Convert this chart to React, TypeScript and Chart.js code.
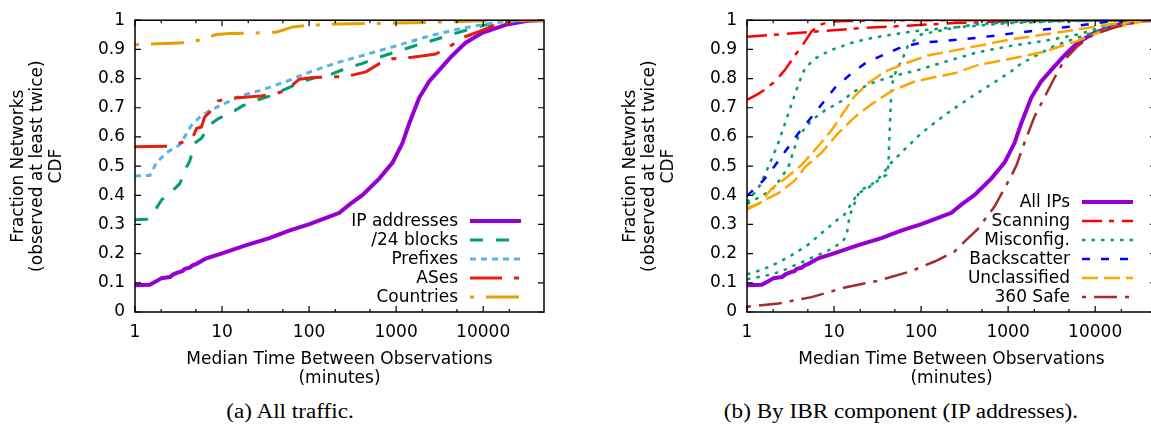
import React, { useEffect, useRef } from "react";
import { Chart, registerables } from "chart.js";
Chart.register(...registerables);

// ---------- axes ----------
const X_TICKS = [1, 10, 100, 1000, 10000];
const X_TICK_LABELS = ["1", "10", "100", "1000", "10000"];
const X_MINOR = [2, 5, 20, 50, 200, 500, 2000, 5000, 20000];
const Y_TICKS = [0, 0.1, 0.2, 0.3, 0.4, 0.5, 0.6, 0.7, 0.8, 0.9, 1];
const Y_TICK_LABELS = ["0", "0.1", "0.2", "0.3", "0.4", "0.5", "0.6", "0.7", "0.8", "0.9", "1"];
const X_MIN = 1;
const X_MAX = 50000;

// ---------- (a) All traffic ----------
const ipX = [1, 1.48, 1.75, 2.02, 2.3, 2.52, 2.8, 3.14, 3.5, 3.74, 4.26, 4.6, 5.09, 6.6, 10, 19, 35, 59, 101, 171, 223, 290, 412, 640, 910, 1183, 1413, 1840, 2395, 3119, 4430, 6300, 9770, 18100, 33500, 50000];
const ipY = [0.092, 0.093, 0.105, 0.116, 0.118, 0.12, 0.13, 0.136, 0.14, 0.148, 0.152, 0.16, 0.165, 0.184, 0.201, 0.229, 0.253, 0.279, 0.301, 0.327, 0.34, 0.368, 0.401, 0.457, 0.512, 0.579, 0.646, 0.734, 0.79, 0.829, 0.879, 0.923, 0.957, 0.984, 0.999, 1.0];

const b24X = [1, 1.36, 1.77, 2.02, 2.75, 3.27, 3.9, 4.26, 4.87, 5.8, 7.55, 9.0, 14, 17.4, 27, 35, 52, 85, 110, 170, 266, 412, 640, 1540, 2840, 5770, 10600, 23600, 50000];
const b24Y = [0.316, 0.318, 0.357, 0.384, 0.418, 0.44, 0.496, 0.518, 0.579, 0.596, 0.646, 0.662, 0.69, 0.707, 0.729, 0.74, 0.762, 0.79, 0.801, 0.812, 0.835, 0.852, 0.873, 0.91, 0.934, 0.962, 0.984, 0.998, 1.0];

const pfX = [1, 1.48, 1.77, 2.3, 3.27, 4.46, 5.55, 7.2, 10.3, 16, 29.5, 54.6, 101, 213, 412, 1000, 2395, 5770, 13900, 33500, 50000];
const pfY = [0.466, 0.468, 0.512, 0.546, 0.573, 0.64, 0.668, 0.69, 0.712, 0.74, 0.762, 0.79, 0.822, 0.855, 0.879, 0.912, 0.946, 0.973, 0.992, 1.0, 1.0];

const asX = [1, 2.41, 3.74, 4.65, 5.09, 5.8, 6.3, 7.2, 8.24, 9.0, 11.7, 28.2, 42, 54.6, 65, 77.5, 110, 265, 450, 640, 910, 1540, 2180, 2840, 4020, 5770, 8920, 13900, 25700, 50000];
const asY = [0.566, 0.568, 0.584, 0.601, 0.629, 0.634, 0.668, 0.684, 0.712, 0.723, 0.732, 0.74, 0.749, 0.76, 0.779, 0.798, 0.804, 0.807, 0.823, 0.851, 0.868, 0.873, 0.879, 0.884, 0.907, 0.94, 0.961, 0.984, 0.996, 1.0];

const ctX = [1, 3.74, 5.55, 8.6, 12.3, 29.5, 42, 65, 92.5, 223, 1000, 6850, 20000, 50000];
const ctY = [0.916, 0.923, 0.932, 0.951, 0.954, 0.957, 0.959, 0.977, 0.982, 0.987, 0.99, 0.996, 1.0, 1.0];

// ---------- (b) By IBR component ----------
const scanAX = [1, 5.05, 20.6, 77, 241, 1000, 5000, 50000];
const scanAY = [0.943, 0.959, 0.973, 0.982, 0.99, 0.996, 0.999, 1.0];
const scanBX = [1, 1.3, 1.61, 2.09, 2.72, 3.55, 4.43, 5.52, 6.86, 8.56, 11.1, 30, 50000];
const scanBY = [0.727, 0.745, 0.762, 0.79, 0.829, 0.879, 0.918, 0.962, 0.984, 0.993, 0.996, 1.0, 1.0];

const mis1X = [1, 1.41, 1.75, 2.29, 2.73, 3.25, 3.88, 4.62, 6, 8.9, 17, 28, 81, 163, 400, 1000, 5000, 50000];
const mis1Y = [0.375, 0.434, 0.496, 0.579, 0.646, 0.712, 0.779, 0.834, 0.868, 0.896, 0.925, 0.94, 0.962, 0.971, 0.98, 0.99, 0.997, 1.0];
const mis2X = [1, 1.54, 2.09, 2.98, 3.88, 5.52, 7.8, 12.2, 17.3, 26.9, 45.6, 92, 186, 447, 1070, 2600, 6300, 15000, 36000, 50000];
const mis2Y = [0.37, 0.401, 0.429, 0.496, 0.601, 0.657, 0.69, 0.723, 0.757, 0.784, 0.807, 0.829, 0.857, 0.89, 0.912, 0.929, 0.951, 0.984, 1.0, 1.0];
const mis3X = [1, 1.5, 2.3, 3.5, 5, 7.8, 11.1, 13.2, 15, 17.3, 20, 25.7, 30.6, 35, 40, 42, 44, 45.6, 52, 59, 70.7, 100, 202, 400, 1000, 5000, 50000];
const mis3Y = [0.129, 0.145, 0.17, 0.2, 0.23, 0.279, 0.318, 0.334, 0.36, 0.39, 0.41, 0.429, 0.446, 0.46, 0.47, 0.5, 0.65, 0.773, 0.83, 0.857, 0.912, 0.951, 0.97, 0.985, 0.993, 0.998, 1.0];
const mis4X = [1, 2, 3, 5, 8.5, 12.2, 13.9, 15.1, 17.3, 19.8, 25.7, 30.6, 35, 41.5, 45.6, 64.6, 100, 156, 220, 447, 1070, 1407, 3390, 6300, 15000, 36000, 50000];
const mis4Y = [0.112, 0.13, 0.15, 0.18, 0.21, 0.238, 0.26, 0.33, 0.373, 0.418, 0.432, 0.45, 0.468, 0.496, 0.512, 0.557, 0.612, 0.657, 0.69, 0.751, 0.823, 0.851, 0.912, 0.94, 0.978, 0.997, 1.0];

const bsX = [1, 1.54, 2.09, 2.85, 3.88, 5.52, 7.5, 10.2, 15.1, 22.5, 36.6, 59, 100, 186, 447, 1070, 2600, 6300, 15000, 50000];
const bsY = [0.398, 0.451, 0.501, 0.557, 0.612, 0.668, 0.718, 0.768, 0.812, 0.851, 0.881, 0.907, 0.923, 0.929, 0.94, 0.954, 0.968, 0.981, 0.996, 1.0];

const un1X = [1, 1.41, 1.92, 2.73, 4.24, 6.57, 9.35, 13.3, 17.3, 24.6, 38, 64.6, 119, 220, 447, 1070, 2600, 6300, 15000, 36000, 50000];
const un1Y = [0.357, 0.373, 0.423, 0.457, 0.504, 0.568, 0.623, 0.69, 0.74, 0.784, 0.823, 0.851, 0.879, 0.894, 0.912, 0.934, 0.951, 0.968, 0.987, 0.997, 1.0];
const un2X = [1, 1.61, 2.29, 3.55, 4.62, 7.2, 11.1, 17.3, 26.9, 45.6, 84, 156, 241, 447, 1070, 2600, 6300, 9500, 15000, 36000, 50000];
const un2Y = [0.351, 0.384, 0.407, 0.451, 0.496, 0.546, 0.612, 0.668, 0.712, 0.757, 0.79, 0.807, 0.818, 0.846, 0.868, 0.892, 0.929, 0.951, 0.973, 0.996, 1.0];

const safeX = [1, 2.29, 5.52, 13.3, 32, 77, 143, 186, 241, 313, 447, 700, 1070, 1240, 1535, 2000, 2600, 3390, 4400, 6300, 9500, 18000, 36000, 50000];
const safeY = [0.018, 0.029, 0.051, 0.084, 0.107, 0.14, 0.173, 0.19, 0.207, 0.24, 0.284, 0.362, 0.462, 0.501, 0.579, 0.668, 0.734, 0.801, 0.862, 0.912, 0.951, 0.978, 0.999, 1.0];

// ---------- helpers ----------
const FONT = "'DejaVu Sans', sans-serif";
const pts = (xs: number[], ys: number[]) => xs.map((x, i) => ({ x, y: ys[i] }));

type Series = {
  label: string;
  xs: number[];
  ys: number[];
  color: string;
  width: number;
  dash: number[];
  legend: boolean;
};

const seriesA: Series[] = [
  { label: "IP addresses", xs: ipX, ys: ipY, color: "#9400d3", width: 4, dash: [], legend: true },
  { label: "/24 blocks", xs: b24X, ys: b24Y, color: "#009e73", width: 3, dash: [13, 13], legend: true },
  { label: "Prefixes", xs: pfX, ys: pfY, color: "#56b4e9", width: 3, dash: [6, 5], legend: true },
  { label: "ASes", xs: asX, ys: asY, color: "#e51e10", width: 3, dash: [32, 12, 5, 12], legend: true },
  { label: "Countries", xs: ctX, ys: ctY, color: "#e69f00", width: 3, dash: [4, 12, 33, 12], legend: true },
];

const seriesB: Series[] = [
  { label: "All IPs", xs: ipX, ys: ipY, color: "#9400d3", width: 4, dash: [], legend: true },
  { label: "Scanning", xs: scanAX, ys: scanAY, color: "#ff0000", width: 2.5, dash: [20, 7, 5, 8], legend: true },
  { label: "Scanning", xs: scanBX, ys: scanBY, color: "#ff0000", width: 2.5, dash: [20, 7, 5, 8], legend: false },
  { label: "Misconfig.", xs: mis1X, ys: mis1Y, color: "#009e73", width: 2.5, dash: [3.5, 6], legend: true },
  { label: "Misconfig.", xs: mis2X, ys: mis2Y, color: "#009e73", width: 2.5, dash: [3.5, 6], legend: false },
  { label: "Misconfig.", xs: mis3X, ys: mis3Y, color: "#009e73", width: 2.5, dash: [3.5, 6], legend: false },
  { label: "Misconfig.", xs: mis4X, ys: mis4Y, color: "#009e73", width: 2.5, dash: [3.5, 6], legend: false },
  { label: "Backscatter", xs: bsX, ys: bsY, color: "#0000ff", width: 2.5, dash: [8, 11], legend: true },
  { label: "Unclassified", xs: un1X, ys: un1Y, color: "#ffa500", width: 2.5, dash: [16, 6], legend: true },
  { label: "Unclassified", xs: un2X, ys: un2Y, color: "#ffa500", width: 2.5, dash: [16, 6], legend: false },
  { label: "360 Safe", xs: safeX, ys: safeY, color: "#a52a2a", width: 2.5, dash: [4, 8, 23, 8], legend: true },
];

const framePlugin = {
  id: "gnuFrame",
  afterDatasetsDraw(chart: any) {
    const { ctx, chartArea: a, scales } = chart;
    const xs = scales.x;
    const ys = scales.y;
    ctx.save();
    ctx.strokeStyle = "#000";
    ctx.lineWidth = 1.5;
    ctx.setLineDash([]);
    ctx.strokeRect(a.left, a.top, a.right - a.left, a.bottom - a.top);
    ctx.lineWidth = 1.2;
    ctx.beginPath();
    for (const v of Y_TICKS) {
      const y = ys.getPixelForValue(v);
      ctx.moveTo(a.left, y);
      ctx.lineTo(a.left + 6, y);
      ctx.moveTo(a.right, y);
      ctx.lineTo(a.right - 6, y);
    }
    for (const v of X_TICKS) {
      const x = xs.getPixelForValue(v);
      ctx.moveTo(x, a.bottom);
      ctx.lineTo(x, a.bottom - 6);
      ctx.moveTo(x, a.top);
      ctx.lineTo(x, a.top + 6);
    }
    for (const v of X_MINOR) {
      const x = xs.getPixelForValue(v);
      ctx.moveTo(x, a.bottom);
      ctx.lineTo(x, a.bottom - 3);
      ctx.moveTo(x, a.top);
      ctx.lineTo(x, a.top + 3);
    }
    ctx.stroke();

    // legend (gnuplot style: right-aligned text, sample on the right)
    const items = chart.data.datasets.filter((d: any) => d.showInLegend);
    const n = items.length;
    ctx.font = `17px ${FONT}`;
    ctx.textAlign = "right";
    ctx.textBaseline = "middle";
    items.forEach((d: any, k: number) => {
      const y = a.bottom - 15 - 19 * (n - 1 - k);
      ctx.fillStyle = "#000";
      ctx.fillText(d.label, a.right - 86, y + 1);
      ctx.beginPath();
      ctx.strokeStyle = d.borderColor;
      ctx.lineWidth = d.borderWidth;
      ctx.setLineDash(d.borderDash);
      ctx.moveTo(a.right - 74, y);
      ctx.lineTo(a.right - 23, y);
      ctx.stroke();
    });
    ctx.restore();
  },
};

function makeConfig(series: Series[]) {
  const N = series.length;
  return {
    type: "scatter" as const,
    data: {
      datasets: series.map((s, i) => ({
        label: s.label,
        data: pts(s.xs, s.ys),
        showLine: true,
        borderColor: s.color,
        backgroundColor: s.color,
        borderWidth: s.width,
        borderDash: s.dash,
        pointRadius: 0,
        pointHoverRadius: 0,
        tension: 0,
        fill: false,
        order: N - i,
        showInLegend: s.legend,
      })),
    },
    options: {
      animation: false as const,
      responsive: false,
      devicePixelRatio: 1,
      events: [],
      layout: { padding: { left: 0, top: 12, right: 68, bottom: 0 } },
      plugins: { legend: { display: false }, tooltip: { enabled: false } },
      scales: {
        x: {
          type: "logarithmic" as const,
          min: X_MIN,
          max: X_MAX,
          grid: { display: false, drawTicks: false },
          border: { display: false },
          afterBuildTicks: (s: any) => {
            s.ticks = X_TICKS.map((v) => ({ value: v }));
          },
          afterFit: (s: any) => {
            s.height = 83;
          },
          ticks: {
            autoSkip: false,
            maxRotation: 0,
            padding: 10,
            color: "#000",
            font: { family: FONT, size: 17, lineHeight: 1.2 },
            callback: (_v: any, i: number) => X_TICK_LABELS[i],
          },
          title: {
            display: true,
            text: ["Median Time Between Observations", "(minutes)"],
            color: "#000",
            font: { family: FONT, size: 17, lineHeight: 1.1 },
            padding: { top: 0, bottom: 7 },
          },
        },
        y: {
          type: "linear" as const,
          min: 0,
          max: 1,
          grid: { display: false, drawTicks: false },
          border: { display: false },
          afterBuildTicks: (s: any) => {
            s.ticks = Y_TICKS.map((v) => ({ value: v }));
          },
          afterFit: (s: any) => {
            s.width = 135;
          },
          ticks: {
            autoSkip: false,
            padding: 10,
            color: "#000",
            font: { family: FONT, size: 17, lineHeight: 1.2 },
            callback: (_v: any, i: number) => Y_TICK_LABELS[i],
          },
          title: {
            display: true,
            text: ["Fraction Networks", "(observed at least twice)", "CDF"],
            color: "#000",
            font: { family: FONT, size: 17, lineHeight: 1.1 },
            padding: { top: 9.6, bottom: 0 },
          },
        },
      },
    },
    plugins: [framePlugin],
  };
}

function Panel({ left, series }: { left: number; series: Series[] }) {
  const ref = useRef<HTMLCanvasElement | null>(null);
  useEffect(() => {
    if (!ref.current) return;
    const chart = new Chart(ref.current, makeConfig(series) as any);
    return () => chart.destroy();
  }, [series]);
  return (
    <div style={{ position: "absolute", left, top: 0, width: 612, height: 395 }}>
      <canvas ref={ref} width={612} height={395} style={{ width: 612, height: 395, display: "block" }} />
    </div>
  );
}

const captionStyle: React.CSSProperties = {
  position: "absolute",
  top: 401,
  width: 500,
  textAlign: "center",
  fontFamily: "'Liberation Serif', 'Times New Roman', serif",
  fontSize: "20.5px",
  lineHeight: "20.5px",
  color: "#000",
  whiteSpace: "nowrap",
  transform: "scaleX(1.13)",
};

export default function App() {
  return (
    <div
      style={{
        position: "absolute",
        left: 0,
        top: 0,
        width: 1151,
        height: 425,
        overflow: "hidden",
        background: "#fff",
      }}
    >
      <Panel left={0} series={seriesA} />
      <Panel left={612} series={seriesB} />
      <div style={{ ...captionStyle, left: 290 - 250 }}>(a) All traffic.</div>
      <div style={{ ...captionStyle, left: 901 - 250 }}>(b) By IBR component (IP addresses).</div>
    </div>
  );
}
